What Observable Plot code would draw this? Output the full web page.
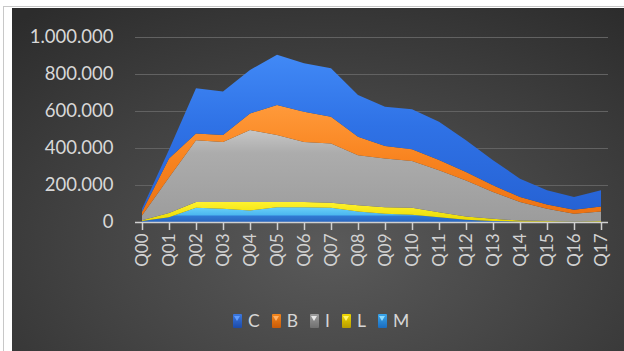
<!DOCTYPE html>
<html>
<head>
<meta charset="utf-8">
<script src="https://cdn.jsdelivr.net/npm/d3@7"></script>
<script src="https://cdn.jsdelivr.net/npm/@observablehq/plot@0.6"></script>
<style>
  html, body { margin: 0; padding: 0; background: #fff; width: 624px; height: 351px; overflow: hidden; }
  #frame { position: absolute; left: 3px; top: 6px; width: 630px; height: 360px;
           border-top: 1.5px solid #c8c8c8; border-left: 1.5px solid #c8c8c8; }
  #panel { position: absolute; left: 12px; top: 8px; width: 612px; height: 343px; overflow: hidden;
           background: radial-gradient(ellipse 78% 88% at 52% 70%, #5a5a5a 0%, #474747 42%, #2c2c2c 100%);
           font-family: Lato, "Open Sans", sans-serif; }
  #chart { position: absolute; left: 0; top: 0; }
  #legend { position: absolute; left: 221px; top: 302px; display: flex; align-items: center;
            font-size: 17.5px; color: #d6d6d6; }
  #legend .item { display: flex; align-items: center; margin-right: 12px; }
  #legend .sw { position: relative; width: 9px; height: 14px; margin-right: 6px; border-radius: 1px; }
  #legend .sw::before { content: ""; position: absolute; left: 1px; top: 2px;
            border-left: 3.5px solid transparent; border-right: 3.5px solid transparent;
            border-top: 5px solid var(--tri); }
</style>
</head>
<body>
<div id="frame"></div>
<div id="panel">
  <div id="chart"></div>
  <div id="legend"></div>
</div>
<script>
// Quarters along the x axis
const quarters = ["Q00","Q01","Q02","Q03","Q04","Q05","Q06","Q07","Q08",
                  "Q09","Q10","Q11","Q12","Q13","Q14","Q15","Q16","Q17"];

// Series values per quarter (stacked bottom to top: M, L, I, B, C)
const valuesM = [5000, 26000, 77000, 71000, 62000, 80000, 80000, 77000, 57000,
                 44000, 39000, 26000, 12000, 6000, 2000, 2000, 1000, 2000];
const valuesL = [5000, 22000, 31000, 37000, 46000, 28000, 28000, 27000, 33000,
                 36000, 38000, 27000, 18000, 11000, 6000, 3000, 2000, 3000];
const valuesI = [25000, 192000, 334000, 325000, 389000, 362000, 325000, 320000, 271000,
                 263000, 253000, 227000, 195000, 145000, 100000, 66000, 41000, 52000];
const valuesB = [20000, 103000, 36000, 37000, 90000, 162000, 163000, 145000, 100000,
                 68000, 63000, 55000, 45000, 36000, 27000, 24000, 22000, 27000];
const valuesC = [17000, 47000, 245000, 235000, 235000, 272000, 262000, 262000, 226000,
                 212000, 216000, 207000, 172000, 136000, 99000, 76000, 69000, 87000];

const stackOrder = ["M", "L", "I", "B", "C"];
const legendOrder = ["C", "B", "I", "L", "M"];
const yTicks = [0, 200000, 400000, 600000, 800000, 1000000];

const seriesValues = { M: valuesM, L: valuesL, I: valuesI, B: valuesB, C: valuesC };

// Fill gradient stops, highlight rim and legend swatch colours per series
const palette = {
  C: { stops: [[0, "#4189f6"], [0.45, "#2f72e6"], [1, "#2662d4"]], rim: "#62a0ff", rimWidth: 2.5,
       sw: ["#3b78e0", "#1c4aa8"], tri: "#5f9cff" },
  B: { stops: [[0, "#ff9a3a"], [0.5, "#f8831f"], [1, "#ec7212"]], rim: "#ffb468", rimWidth: 2.5,
       sw: ["#f3861c", "#c85a08"], tri: "#ffb064" },
  I: { stops: [[0, "#c6c6c6"], [0.25, "#acacac"], [1, "#9c9c9c"]], rim: "#f8f8f8", rimWidth: 4,
       sw: ["#9c9c9c", "#707070"], tri: "#e8e8e8" },
  L: { stops: [[0, "#fff22e"], [1, "#e8d800"]], rim: "#fff86e", rimWidth: 2,
       sw: ["#f0d800", "#b89c00"], tri: "#fff36a" },
  M: { stops: [[0, "#6ad0f8"], [0.5, "#4db8f0"], [0.62, "#3078d2"], [1, "#2a66bf"]], rim: "#98e2ff", rimWidth: 2,
       sw: ["#3aa6ea", "#1a6cc0"], tri: "#8edcff" }
};

const rows = stackOrder.flatMap(s =>
  quarters.map((q, i) => ({ quarter: q, series: s, value: seriesValues[s][i] })));

const locale = d3.formatLocale({ decimal: ",", thousands: ".", grouping: [3], currency: ["", ""] });
const fmt = locale.format(",");

const chart = Plot.plot({
  width: 612,
  height: 282,
  marginLeft: 123,
  marginRight: 16,
  marginTop: 29,
  marginBottom: 68,
  style: { background: "transparent", color: "#d6d6d6", fontFamily: "Lato, 'Open Sans', sans-serif", overflow: "visible" },
  x: { type: "point", domain: quarters, padding: 0, label: null },
  y: { domain: [0, 1000000], label: null },
  marks: [
    Plot.ruleY(yTicks.slice(1), { stroke: "#626262", strokeWidth: 1 }),
    Plot.areaY(rows, {
      x: "quarter", y: "value", z: "series", order: stackOrder,
      fill: { value: d => `url(#fill-${d.series})`, scale: null }
    }),
    ...stackOrder.map(s => Plot.lineY(rows, Plot.stackY2({
      x: "quarter", y: "value", z: "series", order: stackOrder,
      stroke: { value: d => d.series === s ? palette[s].rim : "none", scale: null },
      strokeWidth: palette[s].rimWidth, strokeLinejoin: "round", ariaLabel: "rim"
    }))),
    Plot.ruleY([0], { stroke: "#d0d0d0", strokeWidth: 1.5 }),
    Plot.axisX({ tickSize: 8, tickPadding: 3, tickRotate: -90, stroke: "#d0d0d0", strokeWidth: 1.5, fontSize: 17, fill: "#d2d2d2" }),
    Plot.axisY({ ticks: yTicks, tickSize: 0, tickPadding: 22, tickFormat: fmt, fontSize: 18.5, fill: "#d8d8d8" })
  ]
});

// Gradient definitions for the area fills and a soft blur for the rims
const svg = d3.select(chart);
const defs = svg.insert("defs", ":first-child");
for (const s of stackOrder) {
  const g = defs.append("linearGradient").attr("id", `fill-${s}`)
    .attr("x1", 0).attr("y1", 0).attr("x2", 0).attr("y2", 1);
  for (const [o, c] of palette[s].stops) g.append("stop").attr("offset", o).attr("stop-color", c);
}
defs.append("filter").attr("id", "soft").attr("x", "-5%").attr("y", "-5%").attr("width", "110%").attr("height", "110%")
  .append("feGaussianBlur").attr("stdDeviation", 1);
svg.selectAll("g[aria-label=rim]").attr("filter", "url(#soft)");

document.getElementById("chart").appendChild(chart);

// Legend
const legend = d3.select("#legend");
for (const s of legendOrder) {
  const item = legend.append("div").attr("class", "item");
  item.append("span").attr("class", "sw")
    .style("background", `linear-gradient(to bottom, ${palette[s].sw[0]}, ${palette[s].sw[1]})`)
    .style("--tri", palette[s].tri);
  item.append("span").text(s);
}
</script>
</body>
</html>
